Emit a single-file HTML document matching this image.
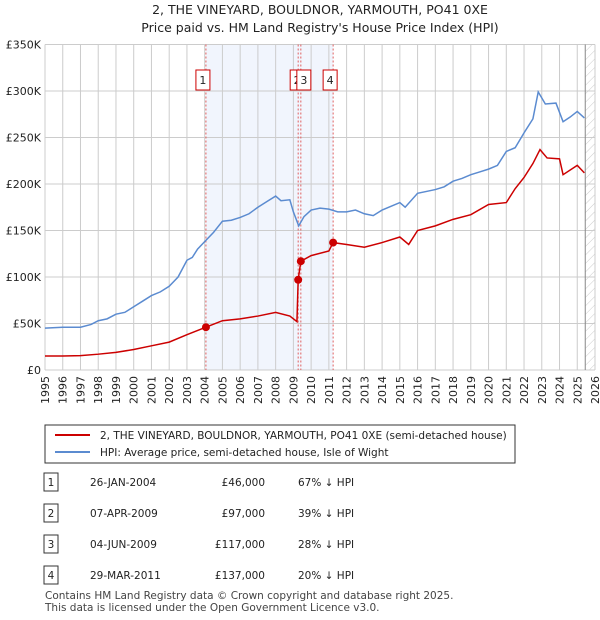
<!DOCTYPE html>
<html><head><meta charset="utf-8"><style>
body{margin:0;background:#fff;font-family:"DejaVu Sans","Liberation Sans",sans-serif;}
#wrap{position:relative;width:600px;height:620px;overflow:hidden}
svg text{font-family:"DejaVu Sans","Liberation Sans",sans-serif}
</style></head><body><div id="wrap">
<svg id="c" width="600" height="620">
<text x="320" y="14" text-anchor="middle" font-size="12.5" fill="#222">2, THE VINEYARD, BOULDNOR, YARMOUTH, PO41 0XE</text>
<text x="320" y="32" text-anchor="middle" font-size="12.5" fill="#222">Price paid vs. HM Land Registry's House Price Index (HPI)</text>
<g id="plot"></g>
<rect x="45" y="425" width="470" height="38" fill="#fff" stroke="#333"/>
<line x1="55" y1="435" x2="90" y2="435" stroke="#cc0000" stroke-width="2"/>
<text x="100" y="439" font-size="10.5" fill="#222">2, THE VINEYARD, BOULDNOR, YARMOUTH, PO41 0XE (semi-detached house)</text>
<line x1="55" y1="452" x2="90" y2="452" stroke="#5b8bd0" stroke-width="2"/>
<text x="100" y="456" font-size="10.5" fill="#222">HPI: Average price, semi-detached house, Isle of Wight</text>
<g id="tbl"></g>
<text x="45" y="599" font-size="10.5" fill="#444">Contains HM Land Registry data © Crown copyright and database right 2025.</text>
<text x="45" y="611" font-size="10.5" fill="#444">This data is licensed under the Open Government Licence v3.0.</text>
</svg></div>
<script>
const yTicks=[0,50000,100000,150000,200000,250000,300000,350000];
const yTickLabels=["£0","£50K","£100K","£150K","£200K","£250K","£300K","£350K"];
const years=[1995,1996,1997,1998,1999,2000,2001,2002,2003,2004,2005,2006,2007,2008,2009,2010,2011,2012,2013,2014,2015,2016,2017,2018,2019,2020,2021,2022,2023,2024,2025,2026];
const hpiX=[1995,1996,1997,1997.6,1998,1998.5,1999,1999.5,2000,2000.5,2001,2001.5,2002,2002.3,2002.5,2003,2003.3,2003.6,2004,2004.5,2005,2005.5,2006,2006.5,2007,2007.5,2008,2008.3,2008.8,2009,2009.3,2009.6,2010,2010.5,2011,2011.5,2012,2012.5,2013,2013.5,2014,2014.5,2015,2015.3,2016,2016.5,2017,2017.5,2018,2018.5,2019,2019.5,2020,2020.5,2021,2021.5,2022,2022.5,2022.8,2023.2,2023.8,2024.2,2024.6,2025,2025.4];
const hpiV=[45000,46000,46000,49000,53000,55000,60000,62000,68000,74000,80000,84000,90000,96000,100000,118000,121000,130000,138000,148000,160000,161000,164000,168000,175000,181000,187000,182000,183000,170000,155000,165000,172000,174000,173000,170000,170000,172000,168000,166000,172000,176000,180000,175000,190000,192000,194000,197000,203000,206000,210000,213000,216000,220000,235000,239000,255000,270000,299000,286000,287000,267000,272000,278000,271000];
const ppX=[1995,1996,1997,1998,1999,2000,2001,2002,2003,2004.07,2005,2006,2007,2008,2008.8,2009.2,2009.27,2009.42,2010,2011,2011.24,2012,2013,2014,2015,2015.5,2016,2017,2018,2019,2020,2021,2021.5,2022,2022.5,2022.9,2023.3,2024,2024.2,2025,2025.4];
const ppV=[15000,15000,15500,17000,19000,22000,26000,30000,38000,46000,53000,55000,58000,62000,58000,52000,97000,117000,123000,128000,137000,135000,132000,137000,143000,135000,150000,155000,162000,167000,178000,180000,195000,207000,222000,237000,228000,227000,210000,220000,212000];
const saleX=[2004.07,2009.27,2009.42,2011.24];
const saleV=[46000,97000,117000,137000];
const saleLabels=["1","2","3","4"];
const saleDates=["26-JAN-2004","07-APR-2009","04-JUN-2009","29-MAR-2011"];
const salePrices=["£46,000","£97,000","£117,000","£137,000"];
const salePct=["67% ↓ HPI","39% ↓ HPI","28% ↓ HPI","20% ↓ HPI"];
const X0=45,X1=595,Y0=370,Y1=44.5;
const xs=y=>X0+(y-1995)/(2026-1995)*(X1-X0);
const ys=v=>Y0-v/350000*(Y0-Y1);
const NS="http://www.w3.org/2000/svg";
const g=document.getElementById('plot');
function mk(t,a,p){const e=document.createElementNS(NS,t);for(const k in a)e.setAttribute(k,a[k]);(p||g).appendChild(e);return e;}
let e;
e=mk('rect',{x:xs(saleX[0]),y:Y1,width:xs(saleX[3])-xs(saleX[0]),height:Y0-Y1,fill:'#f1f5fd'});


const defs=mk('defs',{});
const pat=mk('pattern',{id:'h',width:6,height:6,patternUnits:'userSpaceOnUse',patternTransform:'rotate(45)'},defs);
mk('line',{x1:0,y1:0,x2:0,y2:6,stroke:'#ccc','stroke-width':1},pat);
e=mk('rect',{x:xs(2025.45),y:Y1,width:X1-xs(2025.45),height:Y0-Y1,fill:'url(#h)'});


years.forEach(y=>{e=mk('line',{x1:xs(y),x2:xs(y),y1:Y1,y2:Y0,stroke:'#ccc'});


const t=mk('text',{x:0,y:0,'font-size':11,fill:'#222','text-anchor':'end',transform:`translate(${xs(y)+4},${Y0+6}) rotate(-90)`});t.textContent=y;

});
yTicks.forEach((v,i)=>{e=mk('line',{x1:X0,x2:X1,y1:ys(v),y2:ys(v),stroke:'#ccc'});


const t=mk('text',{x:X0-4,y:ys(v)+4,'font-size':11,fill:'#222','text-anchor':'end'});t.textContent=yTickLabels[i];

});
e=mk('line',{x1:xs(2025.45),x2:xs(2025.45),y1:Y1,y2:Y0,stroke:'#888'});


saleX.forEach((s,i)=>{e=mk('line',{x1:xs(s),x2:xs(s),y1:Y1,y2:Y0,stroke:'#e06060','stroke-dasharray':'2,2'});

});
const bx=[xs(saleX[0])-10,xs(saleX[1])-8,xs(saleX[2])-4,xs(saleX[3])-10];
saleLabels.forEach((l,i)=>{e=mk('rect',{x:bx[i],y:70,width:14,height:20,fill:'#fff',stroke:'#c00'});


const t=mk('text',{x:bx[i]+7,y:84,'font-size':11,'text-anchor':'middle',fill:'#222'});t.textContent=l;

});
e=mk('polyline',{points:hpiX.map((x,i)=>xs(x)+','+ys(hpiV[i])).join(' '),fill:'none',stroke:'#5b8bd0','stroke-width':1.5});


e=mk('polyline',{points:ppX.map((x,i)=>xs(x)+','+ys(ppV[i])).join(' '),fill:'none',stroke:'#cc0000','stroke-width':1.5});


saleX.forEach((s,i)=>{e=mk('circle',{cx:xs(s),cy:ys(saleV[i]),r:4,fill:'#cc0000'});

});
const tb=document.getElementById('tbl');
saleLabels.forEach((l,i)=>{const cy=482+i*31;
e=mk('rect',{x:44,y:cy-9,width:14,height:18,fill:'#fff',stroke:'#333'},tb);


const vals=[[l,51,'middle'],[saleDates[i],90,'start'],[salePrices[i],265,'end'],[salePct[i],298,'start']];
vals.forEach(v=>{const t=mk('text',{x:v[1],y:cy+4,'font-size':10.5,fill:'#222','text-anchor':v[2]},tb);t.textContent=v[0];

});});
</script></body></html>
